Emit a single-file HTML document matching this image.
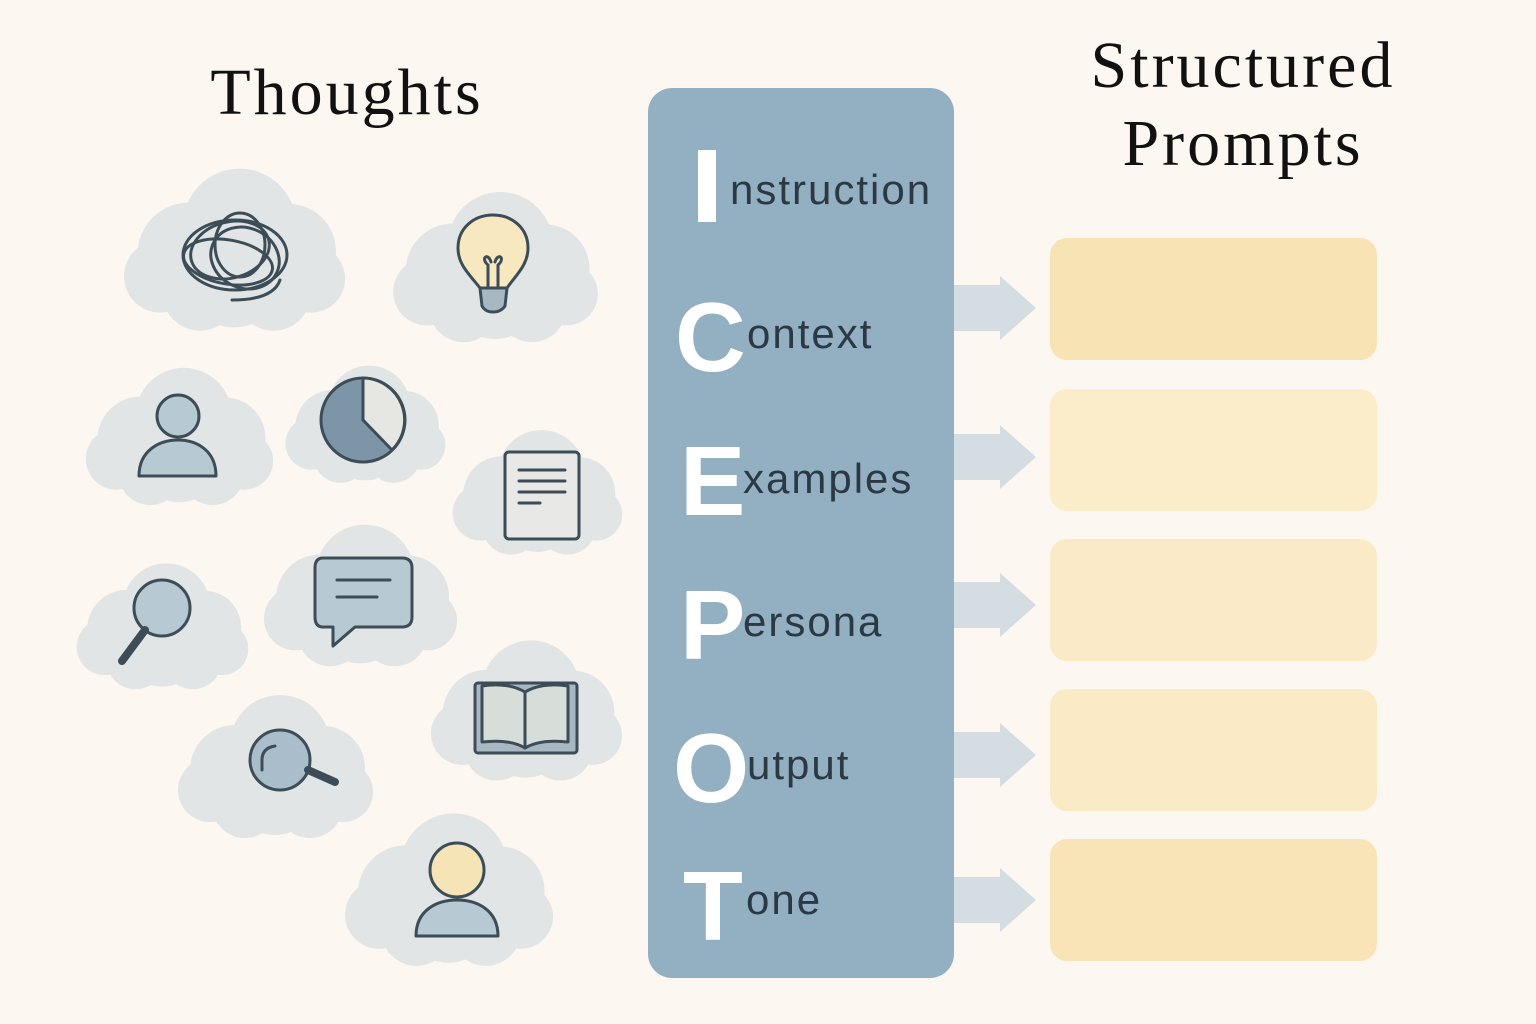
<!DOCTYPE html>
<html><head><meta charset="utf-8"><style>
html,body{margin:0;padding:0;background:#fcf7f0;}
svg{display:block}
</style></head><body>
<svg width="1536" height="1024" viewBox="0 0 1536 1024" xmlns="http://www.w3.org/2000/svg">
<defs>
<symbol id="cloud" viewBox="0 0 200 150">
<g fill="#e1e5e6">
<circle cx="60" cy="80" r="45"/><circle cx="105" cy="55" r="50"/><circle cx="148" cy="78" r="42"/>
<circle cx="100" cy="100" r="45"/><circle cx="35" cy="100" r="32"/><circle cx="168" cy="102" r="30"/>
<circle cx="70" cy="115" r="33"/><circle cx="135" cy="115" r="33"/>
</g>
</symbol>
<g id="arrow"><polygon points="954,-23 1000,-23 1000,-32 1036,0 1000,32 1000,23 954,23" fill="#d3dde2"/></g>
</defs>
<rect width="1536" height="1024" fill="#fcf7f0"/>

<g font-family="Liberation Serif, serif" font-size="66" text-anchor="middle" fill="#111" letter-spacing="3">
<text x="347" y="114">Thoughts</text>
<text x="1243" y="87">Structured</text>
<text x="1243" y="165">Prompts</text>
</g>

<!-- clouds -->
<use href="#cloud" x="114" y="163" width="240" height="170" preserveAspectRatio="none"/>
<use href="#cloud" x="390" y="178" width="210" height="175" preserveAspectRatio="none"/>
<use href="#cloud" x="83" y="356" width="192" height="158" preserveAspectRatio="none"/>
<use href="#cloud" x="283" y="343" width="164" height="160" preserveAspectRatio="none"/>
<use href="#cloud" x="450" y="406" width="174" height="170" preserveAspectRatio="none"/>
<use href="#cloud" x="74" y="550" width="176" height="150" preserveAspectRatio="none"/>
<use href="#cloud" x="261" y="516" width="198" height="156" preserveAspectRatio="none"/>
<use href="#cloud" x="428" y="620" width="196" height="178" preserveAspectRatio="none"/>
<use href="#cloud" x="156" y="690" width="238" height="150" preserveAspectRatio="none"/>
<use href="#cloud" x="332" y="808" width="233" height="160" preserveAspectRatio="none"/>

<g stroke="#3d4d58" stroke-width="3" fill="none" stroke-linecap="round" stroke-linejoin="round">
<ellipse cx="235" cy="255" rx="52" ry="35"/>
<ellipse cx="230" cy="250" rx="40" ry="28" transform="rotate(-15 230 250)"/>
<ellipse cx="245" cy="258" rx="35" ry="30" transform="rotate(25 245 258)"/>
<ellipse cx="228" cy="262" rx="45" ry="22" transform="rotate(10 228 262)"/>
<ellipse cx="240" cy="245" rx="25" ry="32"/>
<path d="M232 300 C255 300 275 295 280 280"/>
<path d="M480 288 C470 275 458 265 458 248 C458 228 474 215 493 215 C512 215 528 228 528 248 C528 265 516 275 507 288 Z" fill="#f7e8bf"/>
<path d="M480 288 L507 288 L505 306 C500 314 486 314 482 306 Z" fill="#a7b8c3"/>
<path d="M488 288 V265 M498 288 V265 M488 265 C480 258 488 252 491 262 M498 265 C506 258 498 252 495 262"/>
<circle cx="178" cy="416" r="21" fill="#b7c9d3"/>
<path d="M139 476 C139 450 160 440 178 440 C196 440 216 450 216 476 Z" fill="#b7c9d3"/>
<circle cx="363" cy="420" r="42" fill="#7c95a7"/>
<path d="M363 378 A42 42 0 0 1 392 450 L363 420 Z" fill="#e6e6e3"/>
<rect x="505" y="452" width="74" height="87" rx="4" fill="#e8e8e6"/>
<path d="M519 470 H565 M519 481 H565 M519 492 H565 M519 503 H540"/>
<circle cx="162" cy="608" r="28" fill="#b7c9d3"/>
<path d="M145 630 L122 661" stroke-width="8"/>
<path d="M323 558 H402 Q412 558 412 568 V617 Q412 627 402 627 H355 L333 646 V627 H323 Q315 627 315 617 V568 Q315 558 323 558 Z" fill="#b7c9d3"/>
<path d="M337 580 H390 M337 597 H377"/>
<rect x="475" y="683" width="102" height="70" rx="3" fill="#a7b8c3"/>
<path d="M482 686 C500 683 515 686 525 692 V748 C515 742 500 740 482 742 Z" fill="#d7ddd8"/>
<path d="M568 686 C550 683 535 686 525 692 V748 C535 742 550 740 568 742 Z" fill="#d7ddd8"/>
<circle cx="280" cy="760" r="30" fill="#a9bdca"/>
<path d="M262 770 V760 Q262 748 275 746"/>
<path d="M308 770 L335 782" stroke-width="8"/>
<circle cx="457" cy="870" r="27" fill="#f5e4b5"/>
<path d="M416 936 C416 910 437 900 457 900 C477 900 498 910 498 936 Z" fill="#b7c9d3"/>
</g>

<rect x="648" y="88" width="306" height="890" rx="24" fill="#93afc2"/>
<g font-family="Liberation Sans, sans-serif">
<g fill="#fff" font-size="98" font-weight="bold">
<rect x="698" y="150" width="18" height="72" fill="#fff"/>
<text x="675" y="371">C</text>
<text x="680" y="515">E</text>
<text x="680" y="659">P</text>
<text x="673" y="802">O</text>
<text x="683" y="940">T</text>
</g>
<g fill="#2b3945" font-size="42" letter-spacing="2">
<text x="730" y="204">nstruction</text>
<text x="747" y="348">ontext</text>
<text x="743" y="493">xamples</text>
<text x="743" y="636">ersona</text>
<text x="747" y="779">utput</text>
<text x="746" y="914">one</text>
</g>
</g>

<use href="#arrow" y="308"/>
<use href="#arrow" y="457"/>
<use href="#arrow" y="605"/>
<use href="#arrow" y="755"/>
<use href="#arrow" y="900"/>

<rect x="1050" y="238" width="327" height="122" rx="17" fill="#f8e3b5"/>
<rect x="1050" y="389" width="327" height="122" rx="17" fill="#fbecca"/>
<rect x="1050" y="539" width="327" height="122" rx="17" fill="#fbeac8"/>
<rect x="1050" y="689" width="327" height="122" rx="17" fill="#faeac5"/>
<rect x="1050" y="839" width="327" height="122" rx="17" fill="#f8e4b6"/>
</svg>
</body></html>
